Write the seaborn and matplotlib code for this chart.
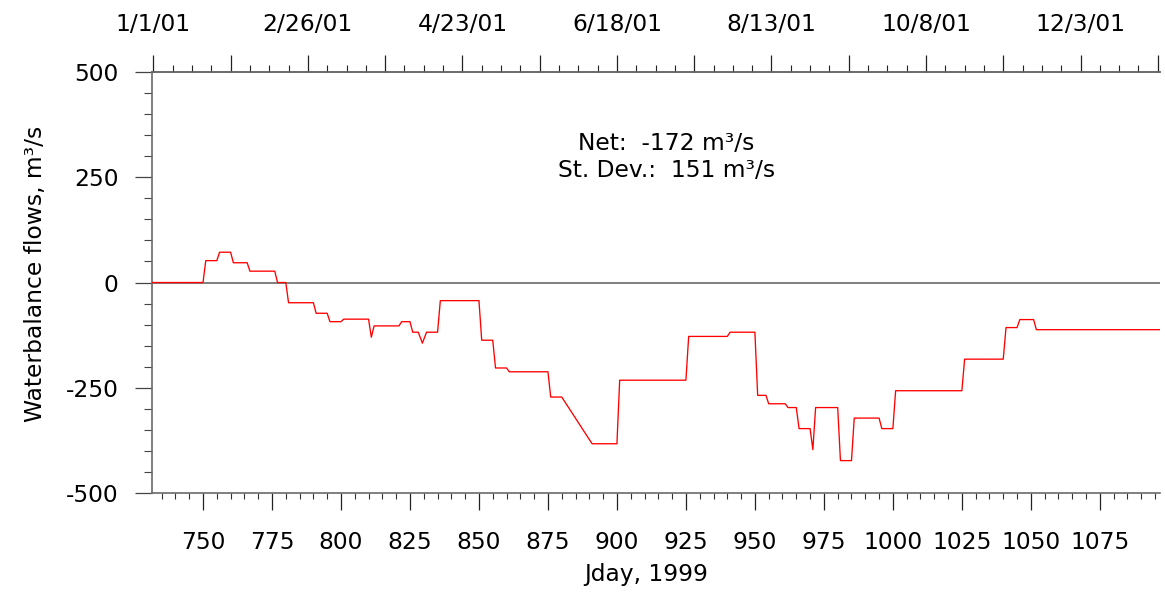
import numpy as np
import pandas as pd
import matplotlib
matplotlib.use("Agg")
import matplotlib.pyplot as plt
from matplotlib.ticker import MultipleLocator, FixedLocator
import seaborn as sns

# Daily net water-balance flow (m3/s), listed at the days where the level changes
jday = [731, 750, 751, 755, 756, 760, 761, 766, 767, 776, 777, 780, 781, 790, 791,
        795, 796, 800, 801, 810, 811, 812, 821, 822, 825, 826, 828, 829.5, 831, 835,
        836, 850, 851, 855, 856, 860, 861, 875, 876, 880, 891, 900, 901, 925, 926,
        940, 941, 950, 951, 954, 955, 961, 962, 965, 966, 970, 971, 972, 980, 981,
        985, 986, 995, 996, 1000, 1001, 1025, 1026, 1040, 1041, 1045, 1046, 1051,
        1052, 1097]
flow = [0, 0, 52, 52, 72, 72, 47, 47, 27, 27, 0, 0, -48, -48, -73,
        -73, -93, -93, -87, -87, -130, -103, -103, -93, -93, -118, -118, -144, -118, -118,
        -43, -43, -137, -137, -203, -203, -212, -212, -272, -272, -383, -383, -232, -232, -128,
        -128, -118, -118, -268, -268, -288, -288, -297, -297, -347, -347, -397, -297, -297, -423,
        -423, -322, -322, -347, -347, -257, -257, -182, -182, -107, -107, -88, -88,
        -112, -112]

# Calendar axis (2001), labelled every eight weeks
date_labels = ["1/1/01", "2/26/01", "4/23/01", "6/18/01", "8/13/01", "10/8/01", "12/3/01"]
first_day_2001 = 732

net_text = "Net:  -172 m\u00b3/s"
sd_text = "St. Dev.:  151 m\u00b3/s"

sns.set_style("white")
plt.rcParams["font.family"] = ["DejaVu Sans"]
plt.rcParams.update({"text.color": "black", "axes.labelcolor": "black",
                     "xtick.labelcolor": "black", "ytick.labelcolor": "black",
                     "axes.unicode_minus": False})
FS = 16.8
AXC = "#6a6a6a"

df = pd.DataFrame({"jday": jday, "flow": flow})

fig = plt.figure(figsize=(11.65, 5.92), dpi=100)
ax = fig.add_axes([0.1302, 0.1672, 0.8655, 0.7111])

ax.axhline(0, color=AXC, lw=1.2, zorder=1)
sns.lineplot(data=df, x="jday", y="flow", ax=ax, color="#ff0000", lw=0.95, zorder=3)

ax.set_xlim(731.4, 1096.8)
ax.set_ylim(-500, 500)

ax.xaxis.set_major_locator(MultipleLocator(25))
ax.xaxis.set_minor_locator(MultipleLocator(5))
ax.yaxis.set_major_locator(MultipleLocator(250))
ax.yaxis.set_minor_locator(MultipleLocator(50))

ax.tick_params(axis="x", which="major", direction="out", length=12, width=0.9,
               color="#222222", labelsize=FS, pad=15, bottom=True, top=False)
ax.tick_params(axis="x", which="minor", direction="out", length=4.5, width=0.8,
               color="#333333", bottom=True, top=False)
ax.tick_params(axis="y", which="major", direction="out", length=12, width=0.9,
               color="#444444", labelsize=FS, pad=12, left=True, right=False,
               labelleft=True)
ax.tick_params(axis="y", which="minor", direction="out", length=6, width=0.8,
               color="#444444", left=True, right=False)

for side in ["left", "bottom", "top"]:
    ax.spines[side].set_color(AXC)
    ax.spines[side].set_linewidth(1.2)
ax.spines["right"].set_visible(False)

ax.set_xlabel("Jday, 1999", fontsize=FS)
ax.set_ylabel("Waterbalance flows, m\u00b3/s", fontsize=FS)
ax.xaxis.set_label_coords(0.490, -0.167)
ax.yaxis.set_label_coords(-0.104, 0.52)

# calendar ticks along the top
top = ax.twiny()
top.set_xlim(ax.get_xlim())
week_ticks = [first_day_2001 + 7 * k for k in range(53)]
month4_ticks = [first_day_2001 + 28 * k for k in range(14)]
top.xaxis.set_major_locator(FixedLocator(month4_ticks))
top.xaxis.set_minor_locator(FixedLocator(week_ticks))
top_lbls = []
for k in range(len(month4_ticks)):
    top_lbls.append(date_labels[k // 2] if k % 2 == 0 and k // 2 < len(date_labels) else "")
top.set_xticklabels(top_lbls)
top.tick_params(axis="x", which="major", direction="out", length=12, width=0.9,
                color="#222222", labelsize=FS, pad=14)
top.tick_params(axis="x", which="minor", direction="out", length=5, width=0.8,
                color="#222222")
top.tick_params(axis="y", which="both", left=False, right=False,
                labelleft=False, labelright=False)
for side in ["left", "bottom", "right"]:
    top.spines[side].set_visible(False)
top.spines["top"].set_color(AXC)
top.spines["top"].set_linewidth(1.2)

ax.text(917.9, 316, net_text, ha="center", va="baseline", fontsize=FS)
ax.text(917.9, 251, sd_text, ha="center", va="baseline", fontsize=FS)

fig.savefig("out.png", dpi=100, facecolor="white")
